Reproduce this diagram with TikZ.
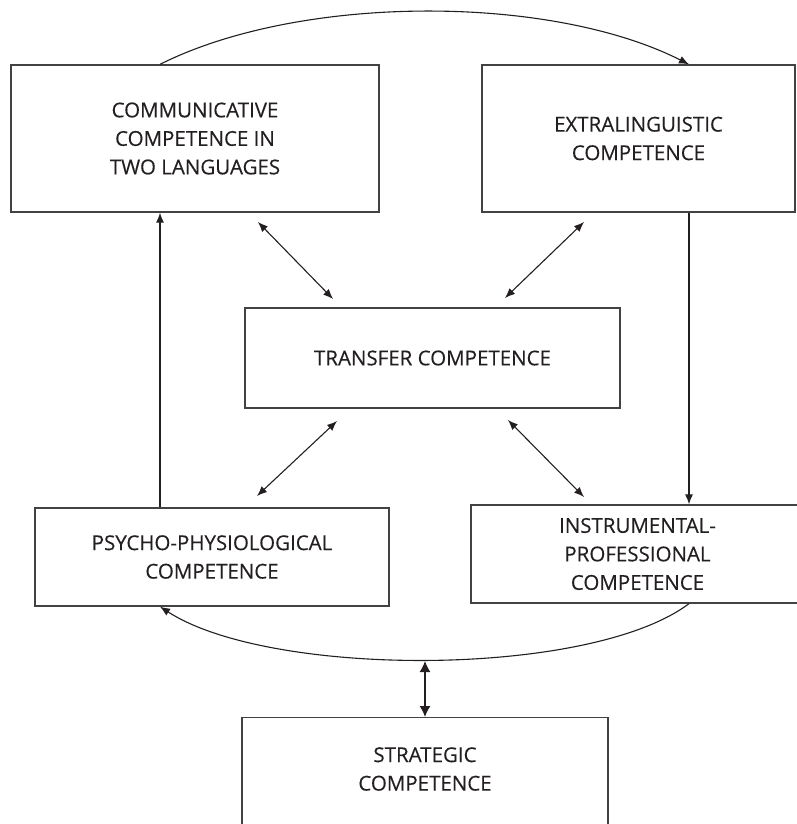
\documentclass[tikz,border=0pt]{standalone}
\usepackage{fontspec}
\setmainfont{Open Sans}
\newfontfamily\labelfont{Open Sans}[FakeBold=0.3]
\usetikzlibrary{arrows.meta,calc}
\definecolor{ink}{HTML}{231F20}
\begin{document}
\begin{tikzpicture}[x=1pt,y=-1pt,
  box/.style={draw=ink!85, line width=1.3pt, inner sep=0pt, align=center,
              text=ink, font=\labelfont\fontsize{20.5}{28.5}\selectfont},
  label/.style={inner sep=0pt, align=center, text=ink, font=\labelfont\fontsize{20.5}{28.5}\selectfont},
  link/.style={draw=ink, line width=1.1pt},
  tip/.style={-{Latex[length=10pt,width=8pt]}},
  twin/.style={{Latex[length=10pt,width=8pt]}-{Latex[length=10pt,width=8pt]}},
  bigtwin/.style={line width=1.4pt,{Latex[length=11pt,width=11pt]}-{Latex[length=11pt,width=11pt]}}]
  \useasboundingbox (0,0) rectangle (796,824);

  % competence boxes
  \node[box, minimum width=368pt, minimum height=147pt] (comm) at (195,138.5)
    {COMMUNICATIVE\\COMPETENCE IN\\TWO LANGUAGES};
  \node[box, minimum width=313pt, minimum height=147pt] (extra) at (638.5,138.5)
    {EXTRALINGUISTIC\\COMPETENCE};
  \node[box, minimum width=375pt, minimum height=100pt] (transfer) at (432.5,358)
    {TRANSFER COMPETENCE};
  \node[box, minimum width=354pt, minimum height=98pt] (psycho) at (212,557)
    {PSYCHO-PHYSIOLOGICAL\\COMPETENCE};
  \node[box, minimum width=333pt, minimum height=98pt] (instr) at (637.5,554)
    {INSTRUMENTAL-\\PROFESSIONAL\\COMPETENCE};
  \node[box, minimum width=366pt, minimum height=140pt, anchor=north] (strat) at (425,717) {};
  \node[label] (strattext) at (425,769) {STRATEGIC\\COMPETENCE};

  % columns used by the vertical links
  \coordinate (colL) at (160,0);
  \coordinate (colR) at (689,0);
  \coordinate (colM) at (425,0);

  % arc over the top
  \draw[link, tip] (comm.north -| colL) .. controls (300,-6) and (550,-6) .. (extra.north -| colR);
  % arc under the middle row
  \draw[link, tip] (instr.south -| colR) .. controls (590,678) and (270,678) .. (psycho.south -| colL);
  \coordinate (arclow) at (425,661);

  % vertical links
  \draw[link, tip] (extra.south -| colR) -- (instr.north -| colR);
  \draw[link, tip] (psycho.north -| colL) -- (comm.south -| colL);
  \draw[link, bigtwin] (arclow) -- (strat.north);

  % links around the transfer box
  \coordinate (ulA) at (258,222); \coordinate (ulB) at (333,299);
  \coordinate (urA) at (584,222); \coordinate (urB) at (505,298);
  \coordinate (llA) at (337,421); \coordinate (llB) at (257,496);
  \coordinate (lrA) at (508,420); \coordinate (lrB) at (584,497);
  \draw[link, twin] (ulA) -- (ulB);
  \draw[link, twin] (urA) -- (urB);
  \draw[link, twin] (llA) -- (llB);
  \draw[link, twin] (lrA) -- (lrB);
\end{tikzpicture}
\end{document}
